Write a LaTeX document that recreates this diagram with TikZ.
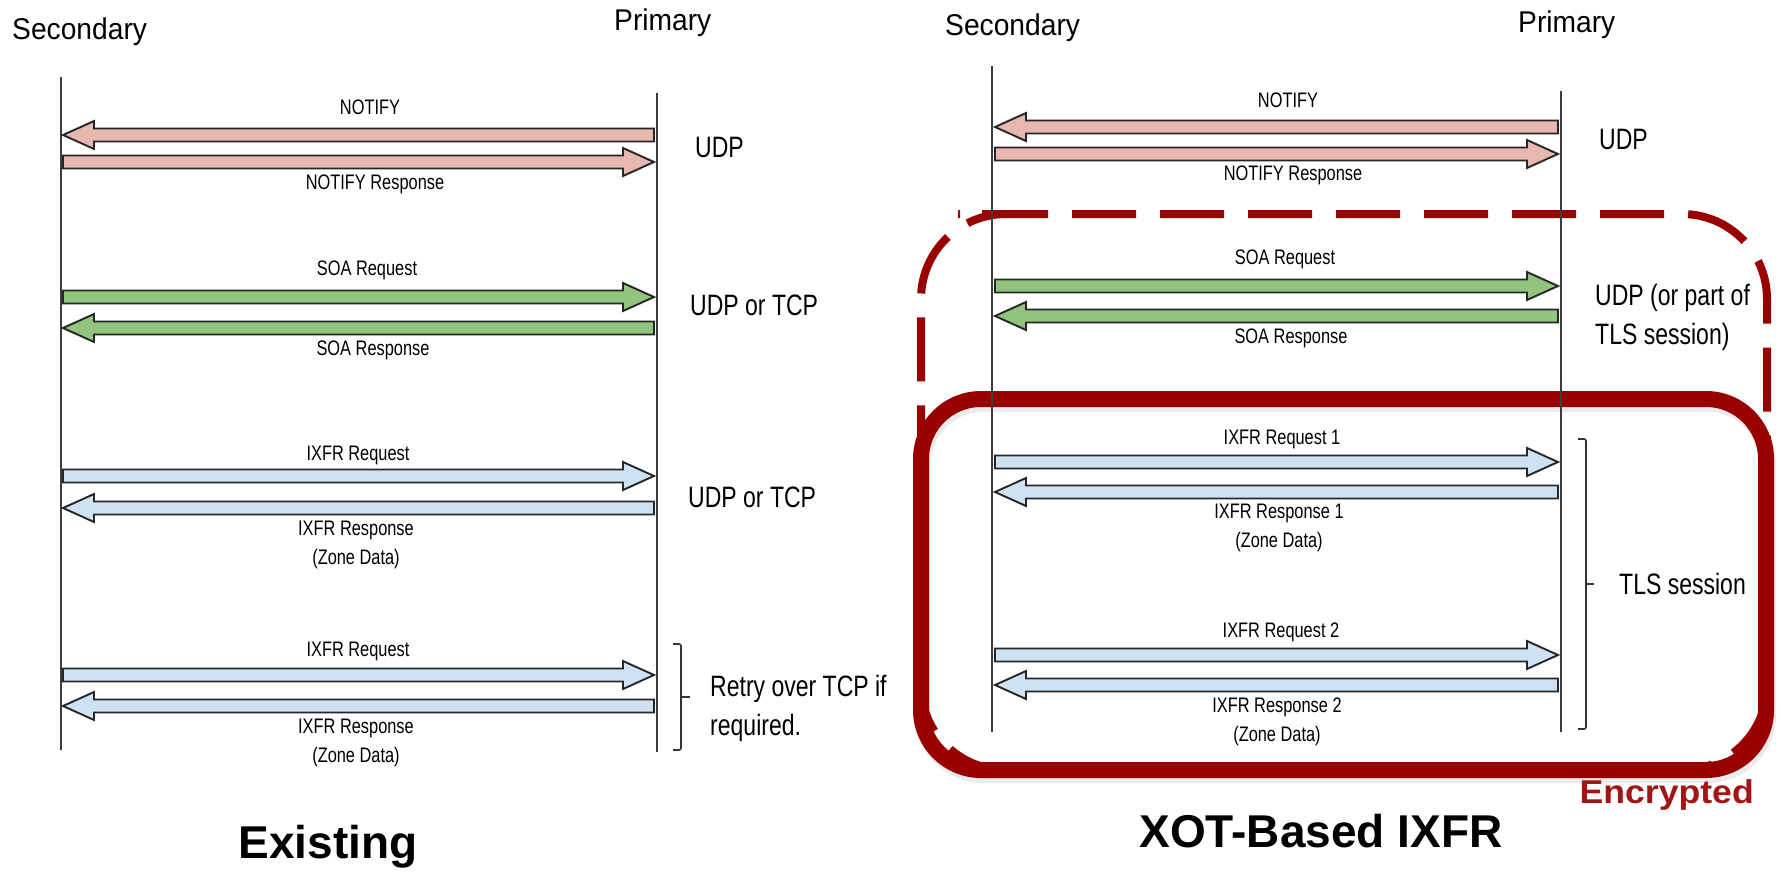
\documentclass[tikz,border=0pt]{standalone}
\usepackage{fontspec}
\setmainfont{Liberation Sans}
\newfontfamily\narrowfont[FakeStretch=0.78]{Liberation Sans}
\newfontfamily\encfont[FakeStretch=1.08]{Liberation Sans}
\newfontfamily\partyfont[FakeStretch=0.94]{Liberation Sans}
\usetikzlibrary{calc}

\definecolor{notifyfill}{HTML}{E6B8AF}
\definecolor{soafill}{HTML}{93C47D}
\definecolor{ixfrfill}{HTML}{CFE2F3}
\definecolor{boxred}{HTML}{990000}
\definecolor{encred}{HTML}{A31515}
\definecolor{lifegray}{HTML}{3C3C3C}

\tikzset{
  lifeline/.style={draw=lifegray, line width=1.6pt},
  msgline/.style={draw=black!85, line width=1.9pt, line join=miter},
  msglabel/.style={font=\narrowfont\fontsize{21}{29}\selectfont, align=center, inner sep=0pt},
  sidenote/.style={font=\narrowfont\fontsize{29.5}{39}\selectfont, align=left, inner sep=0pt},
  partyname/.style={font=\partyfont\fontsize{30}{34}\selectfont, anchor=base west, inner sep=0pt},
  paneltitle/.style={font=\bfseries\fontsize{46}{50}\selectfont, anchor=base, inner sep=0pt},
  bracket/.style={draw=black!80, line width=1.6pt, rounded corners=2pt},
  tlsbox/.style={draw=boxred, line width=16pt, rounded corners=60pt},
  optbox/.style={draw=boxred, line width=8pt, dash pattern=on 64pt off 24pt, dash phase=64pt, rounded corners=85pt},
  boxshadow/.style={draw=black, opacity=0.08, line width=16pt, rounded corners=60pt},
}

% block arrow from tail #2 to tip #3, filled with #1
\newcommand\blockmsg[3]{%
  \draw[msgline, fill=#1] let \p1=(#2), \p2=(#3), \n1={ifthenelse(\x2>\x1,1,-1)} in
    (\x1,{\y1+6.5pt}) -- ({\x2-\n1*31pt},{\y1+6.5pt}) -- ({\x2-\n1*31pt},{\y1+14pt})
    -- (\x2,\y2) -- ({\x2-\n1*31pt},{\y1-14pt}) -- ({\x2-\n1*31pt},{\y1-6.5pt})
    -- (\x1,{\y1-6.5pt}) -- cycle;}

\begin{document}
\begin{tikzpicture}[x=1pt, y=-1pt]
\useasboundingbox (0,0) rectangle (1781,873);

% ---------------- Existing flow ----------------
\node[partyname] (secA) at (12,39) {Secondary};
\node[partyname] (priA) at (614,30) {Primary};

\coordinate (secAtop) at (61,77);   \coordinate (secAbot) at (61,750);
\coordinate (priAtop) at (657,93);  \coordinate (priAbot) at (657,752);
\draw[lifeline] (secAtop) -- (secAbot);
\draw[lifeline] (priAtop) -- (priAbot);

% message end points on the two lifelines
\foreach \n/\y in {a1/135, a2/162, a3/297, a4/328, a5/476, a6/508, a7/675, a8/706}{
  \coordinate (\n L) at (63,\y);
  \coordinate (\n R) at (654,\y);
}
\blockmsg{notifyfill}{a1R}{a1L}
\blockmsg{notifyfill}{a2L}{a2R}
\blockmsg{soafill}{a3L}{a3R}
\blockmsg{soafill}{a4R}{a4L}
\blockmsg{ixfrfill}{a5L}{a5R}
\blockmsg{ixfrfill}{a6R}{a6L}
\blockmsg{ixfrfill}{a7L}{a7R}
\blockmsg{ixfrfill}{a8R}{a8L}

\node[msglabel] (la1) at (370,107) {NOTIFY};
\node[msglabel] (la2) at (375,184) {NOTIFY Response};
\node[msglabel] (la3) at (367,270) {SOA Request};
\node[msglabel] (la4) at (373,350) {SOA Response};
\node[msglabel] (la5) at (358,455) {IXFR Request};
\node[msglabel] (la6) at (356,545) {IXFR Response\\(Zone Data)};
\node[msglabel] (la7) at (358,651) {IXFR Request};
\node[msglabel] (la8) at (356,743) {IXFR Response\\(Zone Data)};

\node[sidenote, anchor=west] (na1) at (695,147) {UDP};
\node[sidenote, anchor=west] (na2) at (690,305) {UDP or TCP};
\node[sidenote, anchor=west] (na3) at (688,497) {UDP or TCP};
\node[sidenote, anchor=north west] (na4) at (710,675) {Retry over TCP if\\required.};

\draw[bracket] (673,644) -| (681,750) -- (673,750);
\draw[bracket] (681,697) -- (690,697);

\node[paneltitle] (titA) at (328,858) {Existing};

% ---------------- XoT flow ----------------
% optional part: dashed box, then the encrypted TLS session box
\draw[optbox] (1043,214) -- (921,214) -- (921,770) -- (1767,770) -- (1767,214) -- cycle;
\draw[boxshadow] (923,404) rectangle (1768,775);
\draw[tlsbox] (921,399) rectangle (1766,770);

\node[partyname] (secB) at (945,35) {Secondary};
\node[partyname] (priB) at (1518,32) {Primary};

\coordinate (secBtop) at (992,66);  \coordinate (secBbot) at (992,732);
\coordinate (priBtop) at (1561,91); \coordinate (priBbot) at (1561,732);
\draw[lifeline] (secBtop) -- (secBbot);
\draw[lifeline] (priBtop) -- (priBbot);

\foreach \n/\y in {b1/127, b2/154, b3/286, b4/316, b5/462, b6/492, b7/655, b8/685}{
  \coordinate (\n L) at (995,\y);
  \coordinate (\n R) at (1558,\y);
}
\blockmsg{notifyfill}{b1R}{b1L}
\blockmsg{notifyfill}{b2L}{b2R}
\blockmsg{soafill}{b3L}{b3R}
\blockmsg{soafill}{b4R}{b4L}
\blockmsg{ixfrfill}{b5L}{b5R}
\blockmsg{ixfrfill}{b6R}{b6L}
\blockmsg{ixfrfill}{b7L}{b7R}
\blockmsg{ixfrfill}{b8R}{b8L}

\node[msglabel] (lb1) at (1288,100) {NOTIFY};
\node[msglabel] (lb2) at (1293,175) {NOTIFY Response};
\node[msglabel] (lb3) at (1285,259) {SOA Request};
\node[msglabel] (lb4) at (1291,338) {SOA Response};
\node[msglabel] (lb5) at (1282,439) {IXFR Request 1};
\node[msglabel] (lb6) at (1279,528) {IXFR Response 1\\(Zone Data)};
\node[msglabel] (lb7) at (1281,632) {IXFR Request 2};
\node[msglabel] (lb8) at (1277,722) {IXFR Response 2\\(Zone Data)};

\node[sidenote, anchor=west] (nb1) at (1599,139) {UDP};
\node[sidenote, anchor=north west] (nb2) at (1595,284) {UDP (or part of\\TLS session)};
\node[sidenote, anchor=west] (nb3) at (1619,584) {TLS session};

\draw[bracket] (1578,439) -| (1586,729) -- (1578,729);
\draw[bracket] (1586,584) -- (1594,584);

\node[font=\encfont\bfseries\fontsize{33}{38}\selectfont, text=encred, anchor=east, inner sep=0pt] (enc) at (1754,795) {Encrypted};
\node[paneltitle] (titB) at (1321,847) {XOT-Based IXFR};
\end{tikzpicture}
\end{document}
